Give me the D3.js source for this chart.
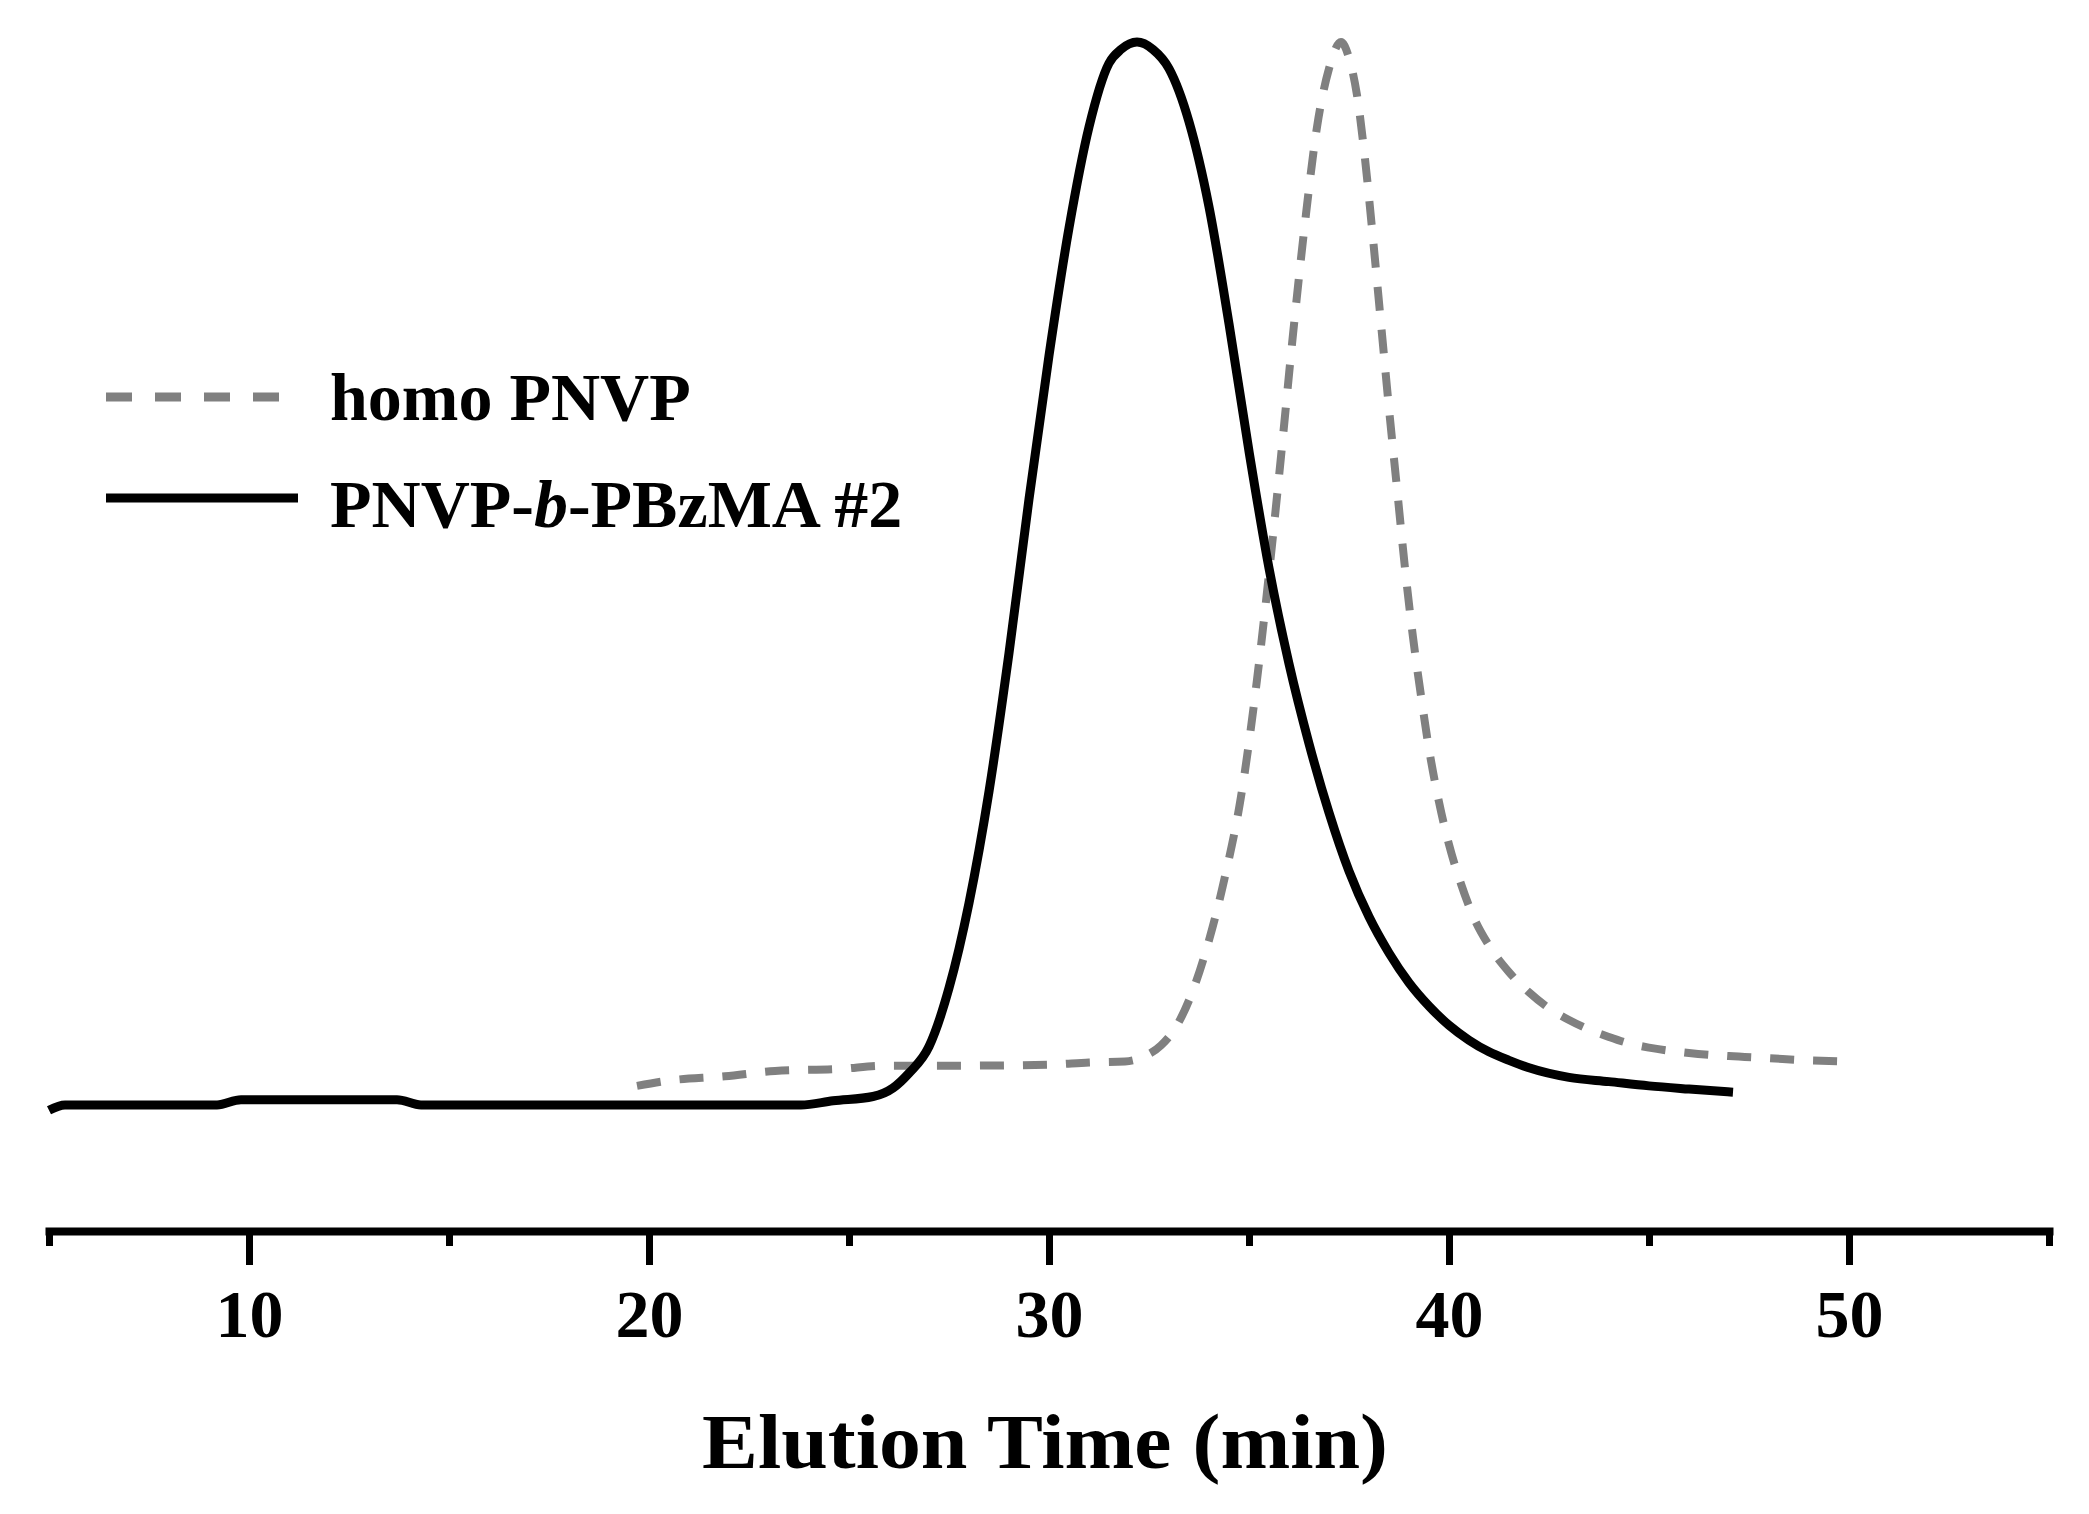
<!DOCTYPE html>
<html>
<head>
<meta charset="utf-8">
<script src="https://cdn.jsdelivr.net/npm/d3@7"></script>
<style>
    body { margin: 0; background: #fff; }
    svg { display: block; }
    text { font-family: "Liberation Serif", "Times New Roman", serif; font-weight: bold; fill: #000; }
</style>
</head>
<body>
<svg id="chart"></svg>
<script>
// axis
const xDomain = [5, 55];
const majorTicks = [10, 20, 30, 40, 50];
const minorTicks = [5, 15, 25, 35, 45, 55];
const xAxisLabel = 'Elution Time (min)';

// homo PNVP (dashed grey)
const homoTime = [19.7, 20.5, 21.9, 23.15, 24.8, 25.85, 27.8, 30.0, 31.0, 31.9,
    32.4, 32.8, 33.2, 33.6, 34.0, 34.4, 34.8, 35.2, 35.5, 35.8,
    36.1, 36.4, 36.7, 37.0, 37.3, 37.5, 37.7, 37.9, 38.1, 38.3,
    38.5, 38.7, 38.9, 39.1, 39.3, 39.5, 39.75, 40.0, 40.3, 40.6,
    41.0, 41.5, 42.0, 42.5, 43.0, 43.5, 44.0, 44.5, 45.0, 46.0,
    47.0, 48.0, 49.0, 49.9];
const homoSignal = [1.8, 2.3, 2.7, 3.2, 3.4, 3.7, 3.7, 3.8, 4.0, 4.1,
    4.6, 5.6, 7.5, 10.8, 15.5, 21.5, 29.0, 40.0, 50.0, 61.0,
    72.5, 83.0, 92.0, 97.5, 100, 98.5, 95.0, 89.0, 81.5, 73.5,
    65.5, 58.0, 50.5, 44.0, 38.5, 33.5, 28.5, 24.5, 20.8, 17.8,
    15.0, 12.5, 10.6, 9.1, 8.0, 7.1, 6.4, 5.8, 5.4, 4.9,
    4.6, 4.4, 4.2, 4.1];

// PNVP-b-PBzMA #2 (solid black)
const blockTime = [5.0, 5.4, 9.2, 9.8, 13.7, 14.3,
    23.8, 24.6, 25.6, 26.1, 26.5, 27.0, 27.5, 28.0, 28.5, 29.0,
    29.5, 30.0, 30.5, 31.0, 31.5, 31.8, 32.2, 32.6, 33.0, 33.5,
    34.0, 34.5, 35.0, 35.5, 36.0, 36.5, 37.0, 37.5, 38.0, 38.5,
    39.0, 39.5, 40.0, 40.5, 41.0, 41.5, 42.0, 43.0, 44.0, 45.0,
    46.0, 47.1];
const blockSignal = [-0.5, 0, 0, 0.5, 0.5, 0,
    0, 0.4, 0.8, 1.6, 3.0, 5.5, 11.0, 19.0, 29.5, 42.5,
    57.0, 70.5, 82.5, 92.0, 98.0, 99.3, 100, 99.3, 97.5, 92.5,
    84.5, 73.5, 61.5, 50.5, 41.5, 34.0, 27.5, 22.0, 17.7, 14.3,
    11.5, 9.3, 7.5, 6.1, 5.0, 4.2, 3.5, 2.6, 2.2, 1.8,
    1.5, 1.2];

const seriesNames = ['homo PNVP', 'PNVP-b-PBzMA #2'];

class ElutionChart {

    constructor(_config) {
        this.config = {
            parentElement: _config.parentElement,
            containerWidth: _config.containerWidth || 2089,
            containerHeight: _config.containerHeight || 1514,
        };
        this.config.margin = _config.margin || { top: 42, bottom: 409, right: 40, left: 49 };
        this.initVis();
    }

    initVis() {
        let vis = this;

        vis.width = vis.config.containerWidth - vis.config.margin.left - vis.config.margin.right;
        vis.height = vis.config.containerHeight - vis.config.margin.top - vis.config.margin.bottom;

        vis.svg = d3.select(vis.config.parentElement)
            .attr('width', vis.config.containerWidth)
            .attr('height', vis.config.containerHeight);

        vis.chart = vis.svg.append('g')
            .attr('transform', `translate(${vis.config.margin.left}, ${vis.config.margin.top})`);

        vis.xScale = d3.scaleLinear()
            .domain(xDomain)
            .range([0, vis.width]);

        // signal has no axis; 0 = black baseline, 100 = peak top
        vis.yScale = d3.scaleLinear()
            .domain([0, 100])
            .range([vis.height, 0]);

        vis.axisY = 1189; // axis line position inside chart group
    }

    render() {
        let vis = this;

        // minor ticks (also the end ticks)
        const minorG = vis.chart.append('g')
            .attr('transform', `translate(0, ${vis.axisY})`)
            .call(d3.axisBottom(vis.xScale).tickValues(minorTicks).tickSize(15).tickSizeOuter(0).tickFormat(''));
        minorG.select('.domain').remove();
        minorG.selectAll('.tick line').attr('stroke', '#000').attr('stroke-width', 7);

        const xAxisG = vis.chart.append('g')
            .attr('transform', `translate(0, ${vis.axisY})`)
            .call(d3.axisBottom(vis.xScale).tickValues(majorTicks).tickSize(34).tickSizeOuter(0));
        xAxisG.select('.domain')
            .attr('stroke', '#000')
            .attr('stroke-width', 8)
            .attr('stroke-linecap', 'square');
        xAxisG.selectAll('.tick line').attr('stroke', '#000').attr('stroke-width', 7);
        xAxisG.selectAll('.tick text')
            .attr('font-size', 68)
            .attr('dy', null)
            .attr('y', 106)
            .attr('font-family', '"Liberation Serif", serif')
            .attr('font-weight', 'bold')
            .attr('fill', '#000');

        vis.chart.append('text')
            .attr('class', 'axis-label')
            .attr('x', vis.xScale(29.9))
            .attr('y', 1426)
            .attr('text-anchor', 'middle')
            .attr('font-size', 78)
            .attr('textLength', 686)
            .attr('lengthAdjust', 'spacingAndGlyphs')
            .text(xAxisLabel);

        const line = d3.line()
            .x(d => vis.xScale(d[0]))
            .y(d => vis.yScale(d[1]))
            .curve(d3.curveMonotoneX);

        vis.chart.append('path')
            .datum(d3.zip(homoTime, homoSignal))
            .attr('fill', 'none')
            .attr('stroke', '#808080')
            .attr('stroke-width', 8)
            .attr('stroke-dasharray', '24,19')
            .attr('d', line);

        vis.chart.append('path')
            .datum(d3.zip(blockTime, blockSignal))
            .attr('fill', 'none')
            .attr('stroke', '#000')
            .attr('stroke-width', 9)
            .attr('d', line);

        // legend
        const legend = vis.svg.append('g');
        legend.append('line')
            .attr('x1', 106).attr('x2', 284).attr('y1', 397).attr('y2', 397)
            .attr('stroke', '#808080').attr('stroke-width', 9)
            .attr('stroke-dasharray', '26,23');
        legend.append('text')
            .attr('x', 330).attr('y', 420)
            .attr('font-size', 68)
            .text(seriesNames[0]);

        legend.append('line')
            .attr('x1', 106).attr('x2', 298).attr('y1', 498).attr('y2', 498)
            .attr('stroke', '#000').attr('stroke-width', 9);
        const t2 = legend.append('text')
            .attr('x', 330).attr('y', 527)
            .attr('font-size', 68);
        t2.append('tspan').text('PNVP-');
        t2.append('tspan').attr('font-style', 'italic').text('b');
        t2.append('tspan').text('-PBzMA #2');
    }
}

const chart = new ElutionChart({ parentElement: '#chart' });
chart.render();
</script>
</body>
</html>
